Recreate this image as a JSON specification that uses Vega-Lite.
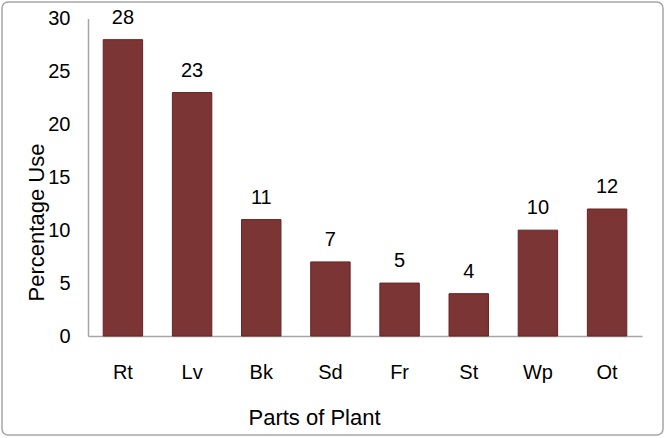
{
  "$schema": "https://vega.github.io/schema/vega-lite/v6.json",
  "autosize": "none",
  "width": 661,
  "height": 433,
  "padding": {"left": 2, "top": 2, "right": 3, "bottom": 3},
  "background": "white",
  "config": {
    "view": {"stroke": "#a6a6a6", "strokeWidth": 1.5, "cornerRadius": 6},
    "font": "Liberation Sans"
  },
  "data": {
    "values": [
      {"part": "Rt", "pct": 28},
      {"part": "Lv", "pct": 23},
      {"part": "Bk", "pct": 11},
      {"part": "Sd", "pct": 7},
      {"part": "Fr", "pct": 5},
      {"part": "St", "pct": 4},
      {"part": "Wp", "pct": 10},
      {"part": "Ot", "pct": 12}
    ]
  },
  "encoding": {
    "x": {
      "field": "part",
      "type": "nominal",
      "sort": null,
      "scale": {"range": [86, 640], "paddingInner": 0.43, "paddingOuter": 0.22},
      "axis": {
        "title": "Parts of Plant",
        "offset": -99,
        "labelAngle": 0,
        "labelFontSize": 20,
        "labelColor": "#000000",
        "labelPadding": 26,
        "ticks": false,
        "domainColor": "#a6a6a6",
        "domainWidth": 1.5,
        "titleFontSize": 22,
        "titleFontWeight": "normal",
        "titleColor": "#000000",
        "titleX": 312,
        "titleY": 88,
        "titleBaseline": "alphabetic",
        "titleAlign": "center"
      }
    },
    "y": {
      "field": "pct",
      "type": "quantitative",
      "scale": {"domain": [0, 30], "range": [334, 16.5], "nice": false},
      "axis": {
        "title": "Percentage Use",
        "offset": -86,
        "values": [0, 5, 10, 15, 20, 25, 30],
        "grid": false,
        "ticks": false,
        "labelFontSize": 20,
        "labelColor": "#000000",
        "labelPadding": 18,
        "domainColor": "#a6a6a6",
        "domainWidth": 1.5,
        "titleFontSize": 22,
        "titleFontWeight": "normal",
        "titleColor": "#000000",
        "titleAngle": -90,
        "titleX": -45,
        "titleY": 220,
        "titleBaseline": "alphabetic",
        "titleAlign": "center"
      }
    }
  },
  "layer": [
    {
      "mark": {"type": "bar", "color": "#7b3535", "stroke": "#6a2222", "strokeWidth": 1}
    },
    {
      "mark": {"type": "text", "baseline": "alphabetic", "dy": -16, "fontSize": 20, "color": "#000000"},
      "encoding": {"text": {"field": "pct", "type": "quantitative"}}
    }
  ]
}
